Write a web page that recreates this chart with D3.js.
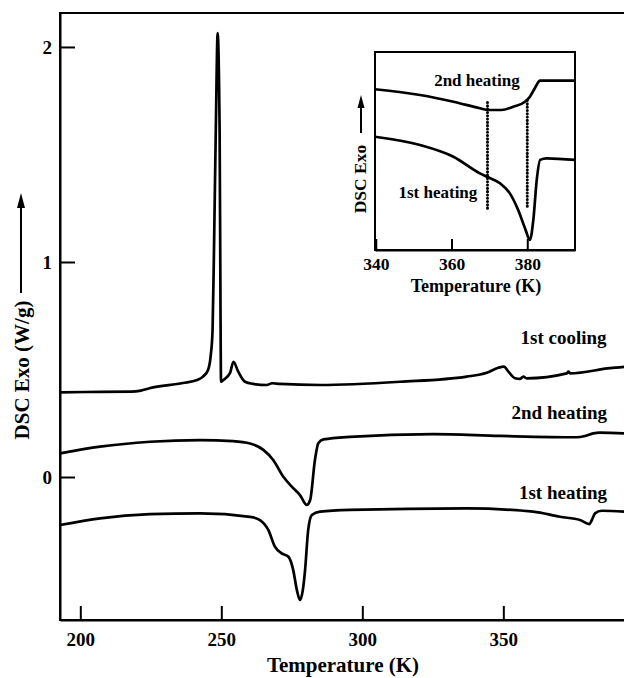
<!DOCTYPE html>
<html>
<head>
<meta charset="utf-8">
<script src="https://cdn.jsdelivr.net/npm/d3@7"></script>
<style>
  html, body { margin: 0; padding: 0; background: #fff; }
  svg { display: block; }
  text { font-family: "Liberation Serif", "Times New Roman", serif; font-weight: bold; fill: #000; }
</style>
</head>
<body>
<svg id="chart" width="624" height="678"></svg>
<script>
// DSC traces, [temperature (K), heat flow (W/g)]
const firstCooling = [
  [192.8, 0.394], [207.0, 0.396], [218.0, 0.397], [221.5, 0.402], [224.5, 0.413],
  [236.4, 0.437], [241.4, 0.451], [243.5, 0.467], [245.3, 0.498], [246.2, 0.560],
  [246.9, 0.684], [247.4, 1.056], [248.1, 1.660], [248.7, 2.064], [249.4, 1.610],
  [249.7, 0.820], [249.9, 0.443], [250.7, 0.451], [253.1, 0.484], [254.3, 0.536],
  [256.0, 0.490], [258.4, 0.443], [261.3, 0.433], [266.1, 0.428], [268.0, 0.436],
  [270.8, 0.433], [285.0, 0.428], [313.4, 0.443], [337.0, 0.467], [344.1, 0.485],
  [348.2, 0.508], [350.2, 0.513], [351.8, 0.490], [354.2, 0.459], [355.9, 0.456],
  [357.1, 0.467], [358.3, 0.459], [372.5, 0.482], [373.1, 0.490], [373.7, 0.482],
  [387.8, 0.506], [393.5, 0.513]
];
const secondHeating = [
  [192.8, 0.110], [207.0, 0.141], [224.7, 0.164], [242.4, 0.172], [254.1, 0.167],
  [260.2, 0.156], [264.9, 0.126], [268.4, 0.079], [272.0, 0.001], [275.0, -0.045],
  [277.9, -0.084], [280.3, -0.130], [281.5, -0.107], [283.2, 0.079], [284.4, 0.157],
  [286.2, 0.175], [295.6, 0.187], [325.1, 0.199], [348.8, 0.191], [376.0, 0.185],
  [379.0, 0.191], [381.9, 0.203], [384.3, 0.206], [393.5, 0.203]
];
const firstHeating = [
  [192.8, -0.223], [207.0, -0.192], [224.7, -0.173], [242.4, -0.169], [260.2, -0.185],
  [263.7, -0.200], [266.7, -0.247], [269.0, -0.324], [271.4, -0.355], [273.8, -0.371],
  [275.5, -0.433], [276.8, -0.526], [277.9, -0.572], [278.9, -0.526], [279.7, -0.433],
  [280.8, -0.247], [282.1, -0.177], [285.0, -0.161], [295.6, -0.153], [337.0, -0.146],
  [360.6, -0.161], [370.1, -0.185], [377.2, -0.200], [380.5, -0.219], [381.4, -0.200],
  [382.5, -0.169], [384.9, -0.157], [393.5, -0.161]
];
const curveLabels = ["1st cooling", "2nd heating", "1st heating"];
const curveLabelAnchors = [[386.6, 0.62], [386.8, 0.27], [386.8, -0.10]];

const xTicks = [200, 250, 300, 350];
const yTicks = [0, 1, 2];

// Inset: zoom of the two heating runs near the 380 K transition (arbitrary units)
const insetSecondHeating = [
  [339.8, 81.2], [351.7, 78.3], [360.5, 74.9], [367.5, 71.6], [369.7, 70.7],
  [373.2, 70.7], [376.3, 72.4], [379.4, 74.9], [380.7, 77.4], [382.0, 81.7],
  [383.4, 85.5], [392.6, 85.5]
];
const insetFirstHeating = [
  [339.8, 57.2], [351.7, 53.0], [360.5, 47.1], [367.5, 38.7], [369.7, 36.7],
  [372.8, 33.7], [375.4, 28.6], [377.6, 20.2], [379.4, 11.0], [380.7, 5.1],
  [381.6, 15.2], [382.5, 35.4], [383.4, 45.5], [385.1, 46.3], [392.6, 45.5]
];
const insetMarkers = [[369.5, 74.5, 20.5], [380.0, 75.5, 20.5]];
const insetLabels = ["2nd heating", "1st heating"];
const insetLabelAnchors = [[366.7, 82.8], [356.4, 26.3]];
const insetTicks = [340, 360, 380];

const svg = d3.select("#chart");

// ---------- main panel ----------
const x = d3.scaleLinear().domain([192.8, 393.5]).range([60, 626]);
const y = d3.scaleLinear().domain([-0.665, 2.158]).range([620, 13]);

svg.append("rect")
  .attr("x", 60).attr("y", 13).attr("width", 580).attr("height", 607)
  .attr("fill", "none").attr("stroke", "#000").attr("stroke-width", 2);

const xAxis = svg.append("g").attr("transform", "translate(0,620)")
  .call(d3.axisBottom(x).tickValues(xTicks).tickFormat(d3.format("d"))
    .tickSizeInner(-14).tickSizeOuter(0).tickPadding(26));
const yAxis = svg.append("g").attr("transform", "translate(60,0)")
  .call(d3.axisLeft(y).tickValues(yTicks).tickFormat(d3.format("d"))
    .tickSizeInner(-15).tickSizeOuter(0).tickPadding(8));
[xAxis, yAxis].forEach(g => {
  g.select(".domain").attr("stroke", "#000").attr("stroke-width", 2);
  g.selectAll(".tick line").attr("stroke", "#000").attr("stroke-width", 2);
  g.selectAll(".tick text").attr("font-size", 19).attr("fill", "#000")
    .style("font-family", "'Liberation Serif', serif").style("font-weight", "bold");
});
xAxis.selectAll(".tick text").attr("dy", "0");

const line = d3.line().x(d => x(d[0])).y(d => y(d[1])).curve(d3.curveMonotoneX);
[firstCooling, secondHeating, firstHeating].forEach(series => {
  svg.append("path").datum(series).attr("d", line)
    .attr("fill", "none").attr("stroke", "#000").attr("stroke-width", 2.7)
    .attr("stroke-linejoin", "round");
});

curveLabels.forEach((t, i) => {
  svg.append("text")
    .attr("x", x(curveLabelAnchors[i][0])).attr("y", y(curveLabelAnchors[i][1]))
    .attr("text-anchor", "end").attr("font-size", 19).text(t);
});

svg.append("text").attr("x", 343).attr("y", 672)
  .attr("text-anchor", "middle").attr("font-size", 21).text("Temperature (K)");

svg.append("text")
  .attr("transform", "translate(29,370) rotate(-90)")
  .attr("text-anchor", "middle").attr("font-size", 21).text("DSC Exo (W/g)");

function arrowUp(cx, yBottom, yTop, headW, headH, sw) {
  svg.append("line").attr("x1", cx).attr("x2", cx).attr("y1", yBottom).attr("y2", yTop + headH - 1)
    .attr("stroke", "#000").attr("stroke-width", sw);
  svg.append("path")
    .attr("d", `M${cx},${yTop} L${cx - headW / 2},${yTop + headH} L${cx + headW / 2},${yTop + headH} Z`)
    .attr("fill", "#000");
}
arrowUp(21, 293, 193, 8, 15, 2);

// ---------- inset ----------
const xi = d3.scaleLinear().domain([339.8, 392.6]).range([375, 575]);
const yi = d3.scaleLinear().domain([0, 100]).range([250, 52]);

svg.append("rect")
  .attr("x", 375).attr("y", 52).attr("width", 200).attr("height", 198)
  .attr("fill", "none").attr("stroke", "#000").attr("stroke-width", 2);

const xiAxis = svg.append("g").attr("transform", "translate(0,250)")
  .call(d3.axisBottom(xi).tickValues(insetTicks).tickFormat(d3.format("d"))
    .tickSizeInner(-11).tickSizeOuter(0).tickPadding(20));
xiAxis.select(".domain").attr("stroke", "#000").attr("stroke-width", 2);
xiAxis.selectAll(".tick line").attr("stroke", "#000").attr("stroke-width", 2);
xiAxis.selectAll(".tick text").attr("font-size", 17.5).attr("fill", "#000").attr("dy", "0")
  .style("font-family", "'Liberation Serif', serif").style("font-weight", "bold");

svg.append("text").attr("x", 476).attr("y", 292)
  .attr("text-anchor", "middle").attr("font-size", 18).text("Temperature (K)");

const linei = d3.line().x(d => xi(d[0])).y(d => yi(d[1])).curve(d3.curveMonotoneX);
[insetSecondHeating, insetFirstHeating].forEach(series => {
  svg.append("path").datum(series).attr("d", linei)
    .attr("fill", "none").attr("stroke", "#000").attr("stroke-width", 2.7)
    .attr("stroke-linejoin", "round");
});

insetMarkers.forEach(m => {
  svg.append("line")
    .attr("x1", xi(m[0])).attr("x2", xi(m[0]))
    .attr("y1", yi(m[1])).attr("y2", yi(m[2]))
    .attr("stroke", "#000").attr("stroke-width", 3)
    .attr("stroke-linecap", "round").attr("stroke-dasharray", "0.1,3.2");
});

insetLabels.forEach((t, i) => {
  svg.append("text")
    .attr("x", xi(insetLabelAnchors[i][0])).attr("y", yi(insetLabelAnchors[i][1]))
    .attr("text-anchor", "middle").attr("font-size", 17).text(t);
});

svg.append("text")
  .attr("transform", "translate(366,179) rotate(-90)")
  .attr("text-anchor", "middle").attr("font-size", 17.5).text("DSC Exo");
arrowUp(361, 133, 95, 7, 13, 2);
</script>
</body>
</html>
